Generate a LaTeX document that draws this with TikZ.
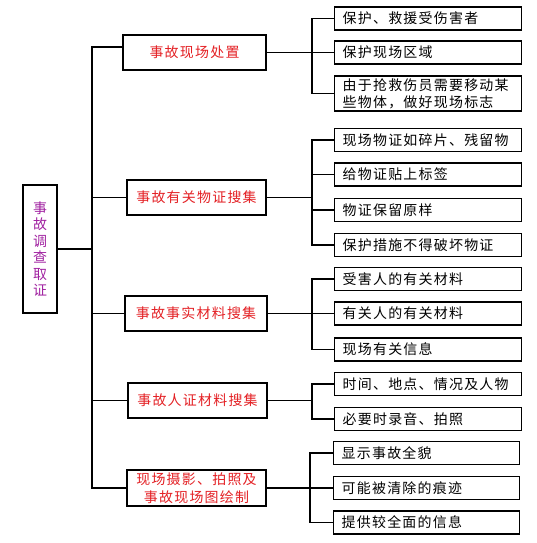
\documentclass[tikz,border=0pt]{standalone}
\usepackage{fontspec}
\newfontfamily\cjk[LetterSpace=9]{Noto Sans CJK SC}
\definecolor{lred}{RGB}{228,32,36}
\definecolor{lpurple}{RGB}{160,32,160}
\tikzset{
  box/.style={draw=black, line width=1.3bp, fill=white, inner ysep=0pt,
    font=\cjk\fontsize{14}{17}\selectfont},
  rootbox/.style={box, text=lpurple, align=center, inner xsep=0pt,
    font=\cjk\fontsize{14}{16.5}\selectfont},
  lone/.style={box, text=lred, align=center, inner xsep=0pt, minimum height=35bp},
  ltwo/.style={box, anchor=west, align=left, inner xsep=8bp, text width=171bp, minimum height=23bp},
  lfive/.style={ltwo, text width=170bp},
  link/.style={line width=1.3bp, black},
}
\begin{document}
\begin{tikzpicture}[x=1bp,y=-1bp]
\useasboundingbox[fill=white] (0,0) rectangle (537,543);
% root
\node[rootbox, minimum width=34bp, minimum height=128bp] (root) at (40,249)
  {事\\故\\调\\查\\取\\证};
% level 1
\node[lone, minimum width=143bp] (b1) at (194.5,52.5) {事故现场处置};
\node[lone, minimum width=139bp] (b2) at (196.5,197.5) {事故有关物证搜集};
\node[lone, minimum width=142bp] (b3) at (196,313.5) {事故事实材料搜集};
\node[lone, minimum width=139bp] (b4) at (197.5,400.5) {事故人证材料搜集};
\node[lone, minimum width=139bp, minimum height=36bp, font=\cjk\fontsize{14}{18}\selectfont] (b5) at (196.5,488) {现场摄影、拍照及\\事故现场图绘制};
% level 2 group 1
\node[ltwo] (a1) at (334,18.5) {保护、救援受伤害者};
\node[ltwo] (a2) at (334,52.5) {保护现场区域};
\node[ltwo, minimum height=35bp] (a3) at (334,93.5) {由于抢救伤员需要移动某\\些物体，做好现场标志};
% group 2
\node[ltwo] (c1) at (334,140) {现场物证如碎片、残留物};
\node[ltwo] (c2) at (334,174.5) {给物证贴上标签};
\node[ltwo] (c3) at (334,210) {物证保留原样};
\node[ltwo] (c4) at (334,245) {保护措施不得破坏物证};
% group 3
\node[ltwo] (d1) at (334,279) {受害人的有关材料};
\node[ltwo] (d2) at (334,313.5) {有关人的有关材料};
\node[ltwo] (d3) at (334,349.5) {现场有关信息};
% group 4
\node[ltwo] (e1) at (334,384) {时间、地点、情况及人物};
\node[ltwo] (e2) at (334,419) {必要时录音、拍照};
% group 5
\node[lfive] (f1) at (333,453) {显示事故全貌};
\node[lfive] (f2) at (333,488) {可能被清除的痕迹};
\node[lfive] (f3) at (333,522.5) {提供较全面的信息};
% trunk
\coordinate (tx) at (92,0);
\coordinate (j1) at (92,47);
\coordinate (sx) at (312,0);
\coordinate (sy) at (310,0);
\draw[link] (root.east) -- (root.east -| tx);
\draw[link] (j1 -| b1.west) -- (j1) -- (b5.west -| tx) -- (b5.west);
\draw[link] (b2.west) -- (b2.west -| tx);
\draw[link] (b3.west) -- (b3.west -| tx);
\draw[link] (b4.west) -- (b4.west -| tx);
% group 1 links
\draw[link] (b1.east) -- (b1.east -| a2.west);
\draw[link] (a1.west) -- (a1.west -| sx) -- (a3.west -| sx) -- (a3.west);
% group 2 links
\draw[link] (b2.east) -- (b2.east -| sx);
\draw[link] (c1.west) -- (c1.west -| sx) -- (c4.west -| sx) -- (c4.west);
\draw[link] (c2.west) -- (c2.west -| sx);
\draw[link] (c3.west) -- (c3.west -| sx);
% group 3 links
\draw[link] (b3.east) -- (b3.east -| d2.west);
\draw[link] (d1.west) -- (d1.west -| sx) -- (d3.west -| sx) -- (d3.west);
% group 4 links
\draw[link] (b4.east) -- (b4.east -| sx);
\draw[link] (e1.west) -- (e1.west -| sx) -- (e2.west -| sx) -- (e2.west);
% group 5 links
\draw[link] (b5.east) -- (b5.east -| f2.west);
\draw[link] (f1.west) -- (f1.west -| sy) -- (f3.west -| sy) -- (f3.west);
\end{tikzpicture}
\end{document}
